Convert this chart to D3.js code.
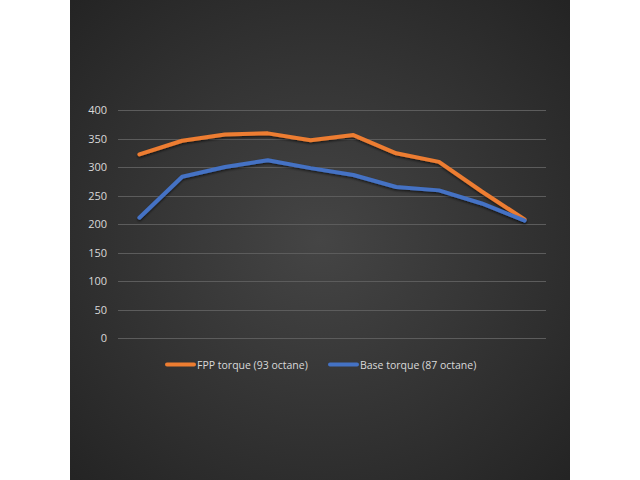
<!DOCTYPE html>
<html>
<head>
<meta charset="utf-8">
<script src="https://cdn.jsdelivr.net/npm/d3@7"></script>
<style>
  body { margin: 0; background: #fff; }
  svg { display: block; }
</style>
</head>
<body>
<div id="chart"></div>
<script>
var width = 640;
var height = 480;

// chart data
var categories = ["1", "2", "3", "4", "5", "6", "7", "8", "9", "10"];
var fppTorque = [322, 346, 357, 359, 347, 356, 324, 309, 257, 208];
var baseTorque = [211, 283, 300, 312, 298, 286, 265, 259, 236, 206];
var yTicks = [0, 50, 100, 150, 200, 250, 300, 350, 400];
var seriesNames = ["FPP torque (93 octane)", "Base torque (87 octane)"];
var seriesColors = ["#ED7D31", "#4472C4"];

var svg = d3.select("#chart")
  .append("svg")
  .attr("width", width)
  .attr("height", height);

var defs = svg.append("defs");
var grad = defs.append("radialGradient")
  .attr("id", "bg")
  .attr("cx", "50%").attr("cy", "50%").attr("r", "70%");
grad.append("stop").attr("offset", "0%").attr("stop-color", "#454545");
grad.append("stop").attr("offset", "100%").attr("stop-color", "#242424");

var shadow = defs.append("filter").attr("id", "shadow")
  .attr("x", "-10%").attr("y", "-10%").attr("width", "120%").attr("height", "130%");
shadow.append("feDropShadow")
  .attr("dx", 0).attr("dy", 1.5).attr("stdDeviation", 1)
  .attr("flood-color", "#000").attr("flood-opacity", 0.6);

// dark panel
svg.append("rect")
  .attr("x", 70).attr("y", 0)
  .attr("width", 500).attr("height", 480)
  .attr("fill", "url(#bg)");

var margin = {left: 118, right: 94, top: 110, bottom: 142};
var plotW = width - margin.left - margin.right;
var plotH = height - margin.top - margin.bottom;

var g = svg.append("g")
  .attr("transform", "translate(" + margin.left + "," + margin.top + ")");

var x = d3.scaleBand()
  .domain(categories)
  .range([0, plotW]);

var y = d3.scaleLinear()
  .domain([0, 400])
  .range([plotH, 0]);

// gridlines
g.append("g")
  .selectAll("line")
  .data(yTicks)
  .enter().append("line")
  .attr("x1", 0)
  .attr("x2", plotW)
  .attr("y1", function(d) { return Math.round(y(d)) + 0.5; })
  .attr("y2", function(d) { return Math.round(y(d)) + 0.5; })
  .attr("stroke", "#5c5c5c")
  .attr("stroke-width", 1);

// y axis labels
var yAxis = g.append("g")
  .attr("transform", "translate(-11,0)")
  .call(d3.axisLeft(y).tickValues(yTicks).tickSize(0).tickPadding(0));
yAxis.select(".domain").remove();
yAxis.selectAll("text")
  .attr("fill", "#d9d9d9")
  .style("font-family", "'Open Sans', sans-serif")
  .style("font-size", "11px");

var line = d3.line()
  .x(function(d, i) { return x(categories[i]) + x.bandwidth() / 2; })
  .y(function(d) { return y(d); });

[fppTorque, baseTorque].forEach(function(series, k) {
  g.append("path")
    .datum(series)
    .attr("d", line)
    .attr("fill", "none")
    .attr("stroke", seriesColors[k])
    .attr("stroke-width", 4)
    .attr("stroke-linecap", "round")
    .attr("stroke-linejoin", "round")
    .attr("filter", "url(#shadow)");
});

// legend
var legendX = [167, 330];
var legend = svg.append("g");
seriesNames.forEach(function(name, k) {
  legend.append("line")
    .attr("x1", legendX[k]).attr("x2", legendX[k] + 27)
    .attr("y1", 364.5).attr("y2", 364.5)
    .attr("stroke", seriesColors[k])
    .attr("stroke-width", 4)
    .attr("stroke-linecap", "round");
  legend.append("text")
    .attr("x", legendX[k] + 30)
    .attr("y", 368.5)
    .attr("fill", "#d9d9d9")
    .style("font-family", "'Open Sans', sans-serif")
    .style("font-size", "10.5px")
    .text(name);
});
</script>
</body>
</html>
